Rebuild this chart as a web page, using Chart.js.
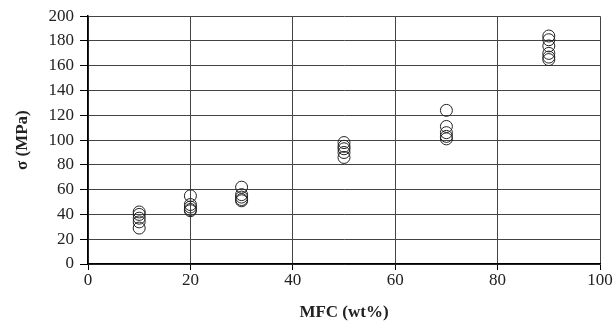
<!DOCTYPE html>
<html>
<head>
<meta charset="utf-8">
<script src="https://cdn.jsdelivr.net/npm/chart.js@4/dist/chart.umd.min.js"></script>
<style>
  html, body { margin: 0; padding: 0; background: #fff; }
  #wrap { width: 613px; height: 327px; }
</style>
</head>
<body>
<div id="wrap"><canvas id="chart" width="613" height="327"></canvas></div>
<script>
// MFC content (wt%) and measured strength (MPa) for each sample
const mfcLevels = [10, 20, 30, 50, 70, 90];
const sigma10 = [29, 34, 37, 40, 42];
const sigma20 = [43, 44, 46, 48, 55];
const sigma30 = [51, 52, 54, 56, 62];
const sigma50 = [86, 90, 93, 95, 98];
const sigma70 = [101, 103, 106, 111, 124];
const sigma90 = [165, 167, 170, 176, 181, 184];
const xTicks = [0, 20, 40, 60, 80, 100];
const yTicks = [0, 20, 40, 60, 80, 100, 120, 140, 160, 180, 200];

const groups = [sigma10, sigma20, sigma30, sigma50, sigma70, sigma90];
const points = [];
groups.forEach((vals, i) => {
  vals.forEach(v => points.push({ x: mfcLevels[i], y: v }));
});

const serif = "'Liberation Serif', 'DejaVu Serif', serif";

new Chart(document.getElementById('chart').getContext('2d'), {
  type: 'scatter',
  data: {
    datasets: [{
      data: points,
      pointStyle: 'circle',
      pointRadius: 6,
      pointHoverRadius: 6,
      backgroundColor: 'rgba(0,0,0,0)',
      borderColor: '#222',
      borderWidth: 1
    }]
  },
  options: {
    responsive: false,
    animation: false,
    layout: { padding: { top: 14, right: 13, left: 0, bottom: 0 } },
    plugins: { legend: { display: false }, tooltip: { enabled: false } },
    scales: {
      x: {
        type: 'linear',
        min: 0, max: 100,
        afterBuildTicks: s => { s.ticks = xTicks.map(v => ({ value: v })); },
        afterFit: s => { s.height = 63; },
        grid: { color: '#444', lineWidth: 1, tickLength: 6, tickColor: '#000' },
        border: { color: '#000', width: 1.5 },
        ticks: { color: '#222', font: { family: serif, size: 17 }, padding: 0, maxRotation: 0 },
        title: { display: true, text: 'MFC (wt%)', color: '#222', font: { family: serif, size: 17, weight: 'bold' }, padding: { top: 8 } }
      },
      y: {
        type: 'linear',
        min: 0, max: 200,
        afterBuildTicks: s => { s.ticks = yTicks.map(v => ({ value: v })); },
        afterFit: s => { s.width = 88; },
        grid: { color: '#444', lineWidth: 1, tickLength: 8, tickColor: '#000' },
        border: { color: '#000', width: 1.5 },
        ticks: { color: '#222', font: { family: serif, size: 17 }, padding: 6 },
        title: { display: true, text: 'σ (MPa)', color: '#222', font: { family: serif, size: 17, weight: 'bold' }, padding: { top: 12, bottom: 8 } }
      }
    }
  }
});
</script>
</body>
</html>
